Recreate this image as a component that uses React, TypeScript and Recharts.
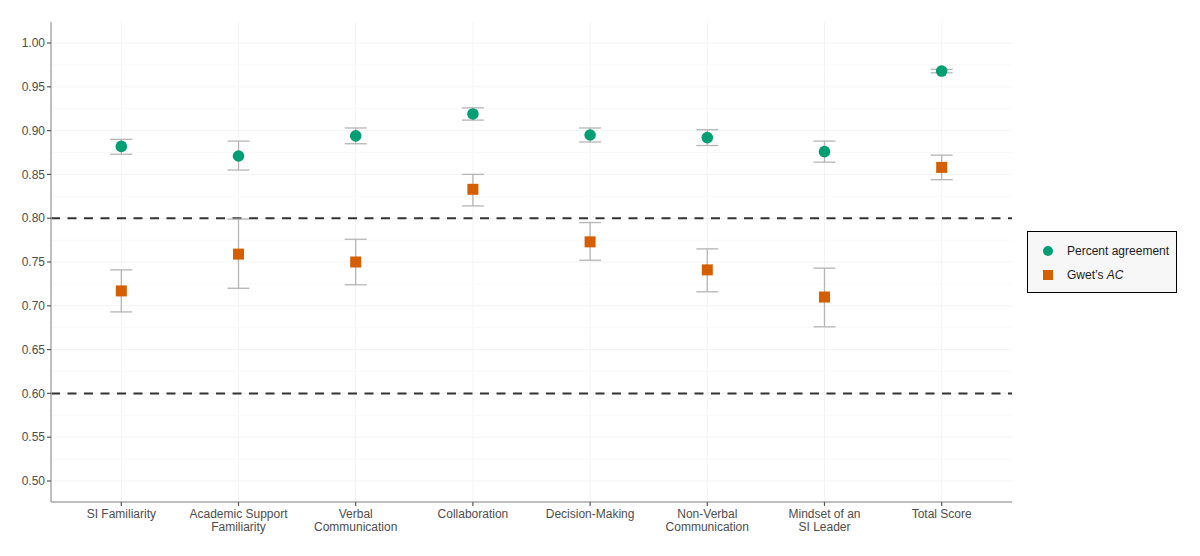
import React from "react";
import {
  ComposedChart,
  Scatter,
  XAxis,
  YAxis,
  CartesianGrid,
  ReferenceLine,
  ErrorBar,
  Legend,
} from "recharts";

const categories = [
  ["SI Familiarity"],
  ["Academic Support", "Familiarity"],
  ["Verbal", "Communication"],
  ["Collaboration"],
  ["Decision-Making"],
  ["Non-Verbal", "Communication"],
  ["Mindset of an", "SI Leader"],
  ["Total Score"],
];

const pctAgree = [0.882, 0.871, 0.894, 0.919, 0.895, 0.892, 0.876, 0.968];
const pctLo = [0.873, 0.855, 0.885, 0.912, 0.887, 0.883, 0.864, 0.966];
const pctHi = [0.890, 0.888, 0.903, 0.926, 0.903, 0.901, 0.888, 0.970];

const gwetAC = [0.717, 0.759, 0.750, 0.833, 0.773, 0.741, 0.710, 0.858];
const gwetLo = [0.693, 0.720, 0.724, 0.814, 0.752, 0.716, 0.676, 0.844];
const gwetHi = [0.741, 0.799, 0.776, 0.850, 0.795, 0.765, 0.743, 0.872];

const yTicks = [0.5, 0.55, 0.6, 0.65, 0.7, 0.75, 0.8, 0.85, 0.9, 0.95, 1.0];
const yMinor = [0.525, 0.575, 0.625, 0.675, 0.725, 0.775, 0.825, 0.875, 0.925, 0.975];
const thresholds = [0.8, 0.6];

const GREEN = "#009E73";
const ORANGE = "#D55E00";
const FONT = "'Liberation Sans', Arial, Helvetica, sans-serif";

const rows = categories.map((_, i) => ({
  x: i + 1,
  pa: pctAgree[i],
  paErr: [pctAgree[i] - pctLo[i], pctHi[i] - pctAgree[i]],
  ac: gwetAC[i],
  acErr: [gwetAC[i] - gwetLo[i], gwetHi[i] - gwetAC[i]],
}));

const CircleShape = (props: any) => {
  const { cx, cy } = props;
  if (cx == null || cy == null) return null;
  return <circle cx={cx} cy={cy} r={5.8} fill={GREEN} />;
};

const SquareShape = (props: any) => {
  const { cx, cy } = props;
  if (cx == null || cy == null) return null;
  const s = 11;
  return <rect x={cx - s / 2} y={cy - s / 2} width={s} height={s} fill={ORANGE} />;
};

const XTick = (props: any) => {
  const { x, y, payload } = props;
  const lines = categories[payload.value - 1] || [];
  return (
    <g transform={`translate(${x},${y})`}>
      {lines.map((l, i) => (
        <text
          key={i}
          x={0}
          y={10 + i * 13}
          textAnchor="middle"
          fill="#4d4d4d"
          fontSize={12}
          fontFamily={FONT}
        >
          {l}
        </text>
      ))}
    </g>
  );
};

const LegendContent = (props: any) => {
  const payload = [...(props.payload || [])].sort((a: any, b: any) =>
    a.dataKey === "pa" ? -1 : b.dataKey === "pa" ? 1 : 0
  );
  return (
    <div
      style={{
        width: 150,
        height: 62,
        boxSizing: "border-box",
        border: "1.5px solid #000",
        background: "#f7f7f7",
        fontFamily: FONT,
        fontSize: 12,
        color: "#1a1a1a",
        padding: "7px 0 0 13px",
      }}
    >
      {payload.map((p: any, i: number) => (
        <div key={i} style={{ display: "flex", alignItems: "center", height: 24 }}>
          <svg width={14} height={14} style={{ marginRight: 12 }}>
            {p.dataKey === "pa" ? (
              <circle cx={7} cy={7} r={5} fill={GREEN} />
            ) : (
              <rect x={2} y={2} width={10} height={10} fill={ORANGE} />
            )}
          </svg>
          {p.dataKey === "pa" ? (
            <span>Percent agreement</span>
          ) : (
            <span>
              Gwet’s <i>AC</i>
            </span>
          )}
        </div>
      ))}
    </div>
  );
};

export default function App() {
  return (
    <div style={{ position: "absolute", left: 0, top: 0, width: 1200, height: 556, background: "#fff" }}>
      <ComposedChart
        width={1200}
        height={556}
        data={rows}
        margin={{ top: 22, right: 188, bottom: 0, left: 0 }}
      >
        <CartesianGrid
          stroke="#f3f3f3"
          strokeWidth={1}
          horizontalValues={yTicks}
          verticalValues={[1, 2, 3, 4, 5, 6, 7, 8]}
        />
        {yMinor.map((v) => (
          <ReferenceLine key={v} y={v} stroke="#f9f9f9" strokeWidth={1} ifOverflow="hidden" />
        ))}
        <XAxis
          dataKey="x"
          type="number"
          domain={[0.4, 8.6]}
          ticks={[1, 2, 3, 4, 5, 6, 7, 8]}
          tick={<XTick />}
          tickSize={4}
          height={54}
          axisLine={{ stroke: "#aaaaaa", strokeWidth: 1.5 }}
          tickLine={{ stroke: "#555555", strokeWidth: 1.2 }}
          interval={0}
        />
        <YAxis
          type="number"
          domain={[0.476, 1.024]}
          ticks={yTicks}
          tickFormatter={(v: number) => v.toFixed(2)}
          width={51}
          tickSize={4}
          tickMargin={2}
          allowDataOverflow
          axisLine={{ stroke: "#aaaaaa", strokeWidth: 1.5 }}
          tickLine={{ stroke: "#555555", strokeWidth: 1.2 }}
          tick={{ fill: "#4d4d4d", fontSize: 12, fontFamily: FONT }}
        />
        {thresholds.map((t) => (
          <ReferenceLine
            key={t}
            y={t}
            stroke="#333333"
            strokeWidth={2}
            strokeDasharray="9 7.5"
          />
        ))}
        <Scatter
          name="Percent agreement"
          dataKey="pa"
          fill={GREEN}
          shape={<CircleShape />}
          isAnimationActive={false}
        >
          <ErrorBar dataKey="paErr" direction="y" width={11} stroke="#b5b5b5" strokeWidth={1.3} />
        </Scatter>
        <Scatter
          name="Gwet's AC"
          dataKey="ac"
          fill={ORANGE}
          shape={<SquareShape />}
          isAnimationActive={false}
        >
          <ErrorBar dataKey="acErr" direction="y" width={11} stroke="#b5b5b5" strokeWidth={1.3} />
        </Scatter>
        <Legend
          layout="horizontal"
          verticalAlign="middle"
          align="center"
          content={<LegendContent />}
          wrapperStyle={{ left: 1027, top: 231, width: 150, height: 62 }}
        />
      </ComposedChart>
    </div>
  );
}
